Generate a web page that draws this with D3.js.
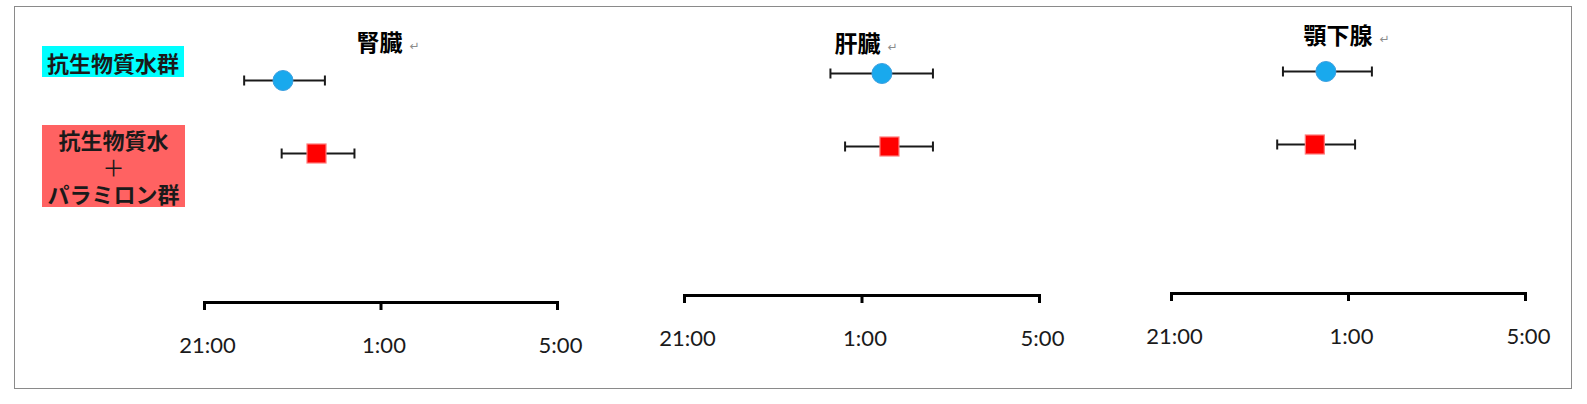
<!DOCTYPE html>
<html>
<head>
<meta charset="utf-8">
<script src="https://cdn.jsdelivr.net/npm/d3@7"></script>
<style>
  body { margin: 0; background: #fff; }
  svg { display: block; }
</style>
</head>
<body>
<div id="chart"></div>
<script>
// organs (one panel each) and the two groups
const organs = ["腎臓", "肝臓", "顎下腺"];
const groups = ["抗生物質水群", "抗生物質水＋パラミロン群"];

// peak time in clock hours (values past 24 are after midnight)
const antibioticPeak = [22.79, 25.46, 24.50];
const antibioticLow  = [21.91, 24.30, 23.53];
const antibioticHigh = [23.74, 26.61, 25.54];

const paramylonPeak = [23.55, 25.63, 24.25];
const paramylonLow  = [22.76, 24.63, 23.40];
const paramylonHigh = [24.41, 26.61, 25.16];

const tickValues = [21, 25, 29];
const tickLabels = ["21:00", "1:00", "5:00"];

const width = 1587;
const height = 404;

// panel placement on the page
const panels = [
    { x0: 204, x1: 557, axisY: 302, titleDx: -1, titleY: 41 },
    { x0: 684, x1: 1039, axisY: 295, titleDx: -4, titleY: 42 },
    { x0: 1171, x1: 1525, axisY: 293, titleDx: -10, titleY: 34 }
];

const cjk = "'Noto Sans CJK JP', 'Noto Sans CJK SC', sans-serif";

const svg = d3.select("#chart")
    .append("svg")
    .attr("width", width)
    .attr("height", height);

// outer frame
svg.append("rect")
    .attr("x", 14.5)
    .attr("y", 6.5)
    .attr("width", 1557)
    .attr("height", 382)
    .attr("fill", "none")
    .attr("stroke", "#8a8a8a")
    .attr("stroke-width", 1);

// group labels on the left
const legend = svg.append("g");
legend.append("rect")
    .attr("x", 42).attr("y", 46)
    .attr("width", 142).attr("height", 31)
    .attr("fill", "#00ffff");
legend.append("text")
    .attr("x", 113).attr("y", 61.5)
    .attr("text-anchor", "middle")
    .attr("dominant-baseline", "central")
    .style("font-family", cjk)
    .style("font-weight", "bold")
    .style("font-size", "22px")
    .style("fill", "#1a1a1a")
    .text(groups[0]);

legend.append("rect")
    .attr("x", 42).attr("y", 125)
    .attr("width", 143).attr("height", 82)
    .attr("fill", "#ff6262");
const redLines = ["抗生物質水", "＋", "パラミロン群"];
redLines.forEach((line, i) => {
    legend.append("text")
        .attr("x", 113.5)
        .attr("y", 139 + i * 27)
        .attr("text-anchor", "middle")
        .attr("dominant-baseline", "central")
        .style("font-family", cjk)
        .style("font-weight", line === "＋" ? "normal" : "bold")
        .style("font-size", "22px")
        .style("fill", "#1a1a1a")
        .text(line);
});

organs.forEach((organ, i) => {
    const p = panels[i];
    const g = svg.append("g");

    const x = d3.scaleLinear()
        .domain([tickValues[0], tickValues[tickValues.length - 1]])
        .range([p.x0, p.x1]);

    const y = d3.scalePoint()
        .domain(groups)
        .range([p.axisY - 221.5, p.axisY - 148.5]);

    // axis
    const axis = d3.axisBottom(x)
        .tickValues(tickValues)
        .tickSize(8)
        .tickFormat((d, j) => tickLabels[j]);

    const ax = g.append("g")
        .attr("transform", `translate(0,${p.axisY})`)
        .call(axis);
    ax.select(".domain")
        .attr("stroke", "#000")
        .attr("stroke-width", 3)
        .attr("stroke-linejoin", "miter");
    ax.selectAll(".tick line")
        .attr("stroke", "#000")
        .attr("stroke-width", 3);
    ax.selectAll(".tick text")
        .attr("y", 43)
        .attr("dy", "0.36em")
        .attr("dx", 3)
        .style("font-family", "Lato, 'Open Sans', sans-serif")
        .style("font-size", "22px")
        .style("fill", "#1a1a1a");

    // title with paragraph mark
    const tx = (p.x0 + p.x1) / 2 + p.titleDx;
    const title = g.append("text")
        .attr("x", tx)
        .attr("y", p.titleY)
        .attr("text-anchor", "middle")
        .attr("dominant-baseline", "central")
        .style("font-family", cjk)
        .style("font-weight", "bold")
        .style("font-size", "23px")
        .style("fill", "#000")
        .text(organ);
    const tw = title.node().getComputedTextLength();
    g.append("text")
        .attr("x", tx + tw / 2 + 7)
        .attr("y", p.titleY + 5)
        .attr("dominant-baseline", "central")
        .style("font-family", "'DejaVu Sans', sans-serif")
        .style("font-size", "12px")
        .style("fill", "#8c8c8c")
        .text("↵");

    const rows = [
        { group: groups[0], peak: antibioticPeak[i], low: antibioticLow[i], high: antibioticHigh[i] },
        { group: groups[1], peak: paramylonPeak[i], low: paramylonLow[i], high: paramylonHigh[i] }
    ];

    // error bars
    rows.forEach(r => {
        const cy = y(r.group);
        g.append("line")
            .attr("x1", x(r.low)).attr("x2", x(r.high))
            .attr("y1", cy).attr("y2", cy)
            .attr("stroke", "#1a1a1a")
            .attr("stroke-width", 2);
        [r.low, r.high].forEach(v => {
            g.append("line")
                .attr("x1", x(v)).attr("x2", x(v))
                .attr("y1", cy - 5).attr("y2", cy + 5)
                .attr("stroke", "#1a1a1a")
                .attr("stroke-width", 2);
        });
    });

    // markers
    g.append("circle")
        .attr("cx", x(rows[0].peak))
        .attr("cy", y(rows[0].group))
        .attr("r", 10)
        .attr("fill", "#19a9ed")
        .attr("stroke", "#3b9fe0")
        .attr("stroke-width", 1);

    g.append("rect")
        .attr("x", x(rows[1].peak) - 9.5)
        .attr("y", y(rows[1].group) - 9.5)
        .attr("width", 19)
        .attr("height", 19)
        .attr("fill", "#ff0000")
        .attr("stroke", "#ff7a7a")
        .attr("stroke-width", 1.2);
});
</script>
</body>
</html>
